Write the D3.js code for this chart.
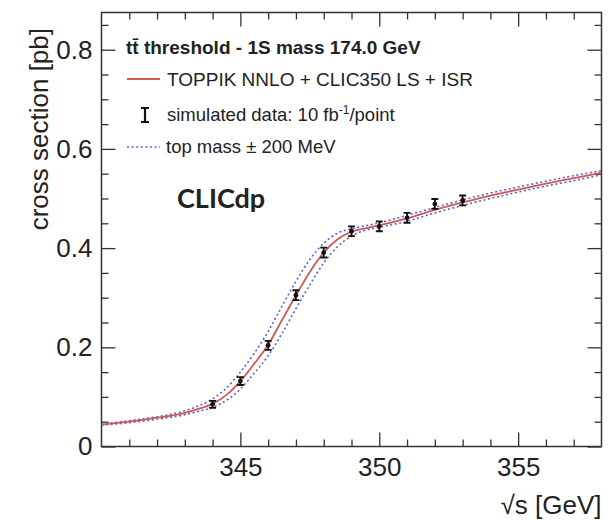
<!DOCTYPE html>
<html>
<head>
<meta charset="utf-8">
<script src="https://cdn.jsdelivr.net/npm/d3@7"></script>
<style>
  html, body { margin: 0; padding: 0; background: #fff; }
  svg { display: block; }
  text { font-family: "Liberation Sans", Arial, Helvetica, sans-serif; fill: #222; }
</style>
</head>
<body>
<svg id="chart" width="614" height="520"></svg>
<script>
// ---- data ----
const sqrtS = [340, 341, 342, 343, 343.5, 344, 344.5, 345, 345.5, 346, 346.5, 347, 347.5, 348, 348.5, 349, 349.5, 350, 351, 352, 353, 354, 355, 356, 357, 358];
const nominal = [0.044, 0.050, 0.058, 0.068, 0.076, 0.086, 0.104, 0.132, 0.167, 0.205, 0.255, 0.305, 0.352, 0.391, 0.418, 0.433, 0.440, 0.446, 0.460, 0.477, 0.492, 0.506, 0.518, 0.530, 0.541, 0.552];
const massDown = [0.045, 0.052, 0.060, 0.072, 0.082, 0.096, 0.118, 0.150, 0.188, 0.232, 0.283, 0.333, 0.377, 0.410, 0.430, 0.439, 0.445, 0.451, 0.466, 0.482, 0.497, 0.511, 0.523, 0.535, 0.546, 0.556];
const massUp = [0.043, 0.048, 0.055, 0.064, 0.071, 0.079, 0.093, 0.116, 0.148, 0.183, 0.228, 0.278, 0.326, 0.370, 0.403, 0.424, 0.436, 0.442, 0.454, 0.471, 0.486, 0.500, 0.513, 0.525, 0.536, 0.548];

const dataX = [344, 345, 346, 347, 348, 349, 350, 351, 352, 353];
const dataY = [0.085, 0.132, 0.204, 0.305, 0.391, 0.434, 0.444, 0.461, 0.489, 0.496];
const dataErr = [0.007, 0.008, 0.009, 0.010, 0.010, 0.010, 0.010, 0.010, 0.010, 0.010];

const xMajorTicks = [345, 350, 355];
const yMajorTicks = [0, 0.2, 0.4, 0.6, 0.8];
const yTickLabels = ["0", "0.2", "0.4", "0.6", "0.8"];

const legendTitle = "t\u0074\u0304 threshold - 1S mass 174.0 GeV";
const legendItems = ["TOPPIK NNLO + CLIC350 LS + ISR", "simulated data: 10 fb", "top mass \u00B1 200 MeV"];

// ---- layout ----
const L = 101.5, R = 601.5, T = 12.5, B = 446.5;
const svg = d3.select("#chart");
const x = d3.scaleLinear().domain([340, 358]).range([L, R]);
const y = d3.scaleLinear().domain([0, 0.875]).range([B, T]);

const xMinor = d3.range(341, 358, 1).filter(v => !xMajorTicks.includes(v));
const yMinor = d3.range(0.05, 0.875, 0.05).filter(v => !yMajorTicks.some(t => Math.abs(t - v) < 1e-6));

function styleAxis(g) {
  g.select(".domain").remove();
  g.selectAll("line").attr("stroke", "#333").attr("stroke-width", 1.3);
  g.selectAll("text").attr("fill", "#222").style("font-family", "Liberation Sans, Arial, sans-serif").style("font-size", "26px");
}

// bottom
svg.append("g").attr("transform", `translate(0,${B})`)
  .call(d3.axisBottom(x).tickValues(xMajorTicks).tickSizeInner(-14).tickSizeOuter(0).tickPadding(11).tickFormat(d3.format("d")))
  .call(styleAxis);
svg.append("g").attr("transform", `translate(0,${B})`)
  .call(d3.axisBottom(x).tickValues(xMinor).tickSizeInner(-7).tickSizeOuter(0).tickFormat(""))
  .call(styleAxis);
// top
svg.append("g").attr("transform", `translate(0,${T})`)
  .call(d3.axisTop(x).tickValues(xMajorTicks).tickSizeInner(-14).tickSizeOuter(0).tickFormat(""))
  .call(styleAxis);
svg.append("g").attr("transform", `translate(0,${T})`)
  .call(d3.axisTop(x).tickValues(xMinor).tickSizeInner(-7).tickSizeOuter(0).tickFormat(""))
  .call(styleAxis);
// left
svg.append("g").attr("transform", `translate(${L},0)`)
  .call(d3.axisLeft(y).tickValues(yMajorTicks).tickSizeInner(-14).tickSizeOuter(0).tickPadding(9).tickFormat((d, i) => yTickLabels[i]))
  .call(styleAxis);
svg.append("g").attr("transform", `translate(${L},0)`)
  .call(d3.axisLeft(y).tickValues(yMinor).tickSizeInner(-7).tickSizeOuter(0).tickFormat(""))
  .call(styleAxis);
// right
svg.append("g").attr("transform", `translate(${R},0)`)
  .call(d3.axisRight(y).tickValues(yMajorTicks).tickSizeInner(-14).tickSizeOuter(0).tickFormat(""))
  .call(styleAxis);
svg.append("g").attr("transform", `translate(${R},0)`)
  .call(d3.axisRight(y).tickValues(yMinor).tickSizeInner(-7).tickSizeOuter(0).tickFormat(""))
  .call(styleAxis);

// frame
svg.append("rect").attr("x", L).attr("y", T).attr("width", R - L).attr("height", B - T)
  .attr("fill", "none").attr("stroke", "#333").attr("stroke-width", 1.5);

// clip
svg.append("clipPath").attr("id", "clip").append("rect")
  .attr("x", L).attr("y", T).attr("width", R - L).attr("height", B - T);

const line = d3.line().x(d => x(d[0])).y(d => y(d[1])).curve(d3.curveMonotoneX);
const plot = svg.append("g").attr("clip-path", "url(#clip)");

const blue = "#5c5ce0";
const red = "#cf5a50";
plot.append("path").datum(sqrtS.map((v, i) => [v, massDown[i]]))
  .attr("d", line).attr("fill", "none").attr("stroke", blue).attr("stroke-width", 1.6).attr("stroke-dasharray", "2,2.6");
plot.append("path").datum(sqrtS.map((v, i) => [v, massUp[i]]))
  .attr("d", line).attr("fill", "none").attr("stroke", blue).attr("stroke-width", 1.6).attr("stroke-dasharray", "2,2.6");
plot.append("path").datum(sqrtS.map((v, i) => [v, nominal[i]]))
  .attr("d", line).attr("fill", "none").attr("stroke", red).attr("stroke-width", 1.8);

// data points with error bars
const pts = plot.selectAll("g.pt").data(dataX.map((v, i) => ({ x: v, y: dataY[i], e: dataErr[i] })))
  .enter().append("g").attr("class", "pt");
pts.append("line").attr("x1", d => x(d.x)).attr("x2", d => x(d.x))
  .attr("y1", d => y(d.y - d.e)).attr("y2", d => y(d.y + d.e)).attr("stroke", "#111").attr("stroke-width", 1.8);
pts.append("line").attr("x1", d => x(d.x) - 3.5).attr("x2", d => x(d.x) + 3.5)
  .attr("y1", d => y(d.y + d.e)).attr("y2", d => y(d.y + d.e)).attr("stroke", "#111").attr("stroke-width", 1.8);
pts.append("line").attr("x1", d => x(d.x) - 3.5).attr("x2", d => x(d.x) + 3.5)
  .attr("y1", d => y(d.y - d.e)).attr("y2", d => y(d.y - d.e)).attr("stroke", "#111").attr("stroke-width", 1.8);
pts.append("circle").attr("cx", d => x(d.x)).attr("cy", d => y(d.y)).attr("r", 2.4).attr("fill", "#111");

// legend
const lg = svg.append("g");
lg.append("text").attr("x", 126).attr("y", 54).style("font-size", "19px").style("font-weight", "bold")
  .attr("fill", "#222").text(legendTitle);
lg.append("line").attr("x1", 127).attr("x2", 160).attr("y1", 79).attr("y2", 79).attr("stroke", red).attr("stroke-width", 2);
lg.append("text").attr("x", 167).attr("y", 86).style("font-size", "19px").text(legendItems[0]);
// error bar symbol
const ex = 145, ey = 115;
lg.append("line").attr("x1", ex).attr("x2", ex).attr("y1", ey - 7).attr("y2", ey + 7).attr("stroke", "#111").attr("stroke-width", 2.2);
lg.append("line").attr("x1", ex - 4).attr("x2", ex + 4).attr("y1", ey - 7).attr("y2", ey - 7).attr("stroke", "#111").attr("stroke-width", 2);
lg.append("line").attr("x1", ex - 4).attr("x2", ex + 4).attr("y1", ey + 7).attr("y2", ey + 7).attr("stroke", "#111").attr("stroke-width", 2);
const t2 = lg.append("text").attr("x", 167).attr("y", 121).style("font-size", "18.5px");
t2.append("tspan").text(legendItems[1]);
t2.append("tspan").attr("dy", -7).style("font-size", "12px").text("-1");
t2.append("tspan").attr("dy", 7).text("/point");
lg.append("line").attr("x1", 127).attr("x2", 160).attr("y1", 147).attr("y2", 147).attr("stroke", blue).attr("stroke-width", 1.6).attr("stroke-dasharray", "2,2.6");
lg.append("text").attr("x", 166).attr("y", 153).style("font-size", "18.5px").text(legendItems[2]);

// CLICdp
svg.append("text").attr("x", 177).attr("y", 208).style("font-family", "Lato, 'Open Sans', sans-serif")
  .style("font-weight", "bold").style("font-size", "27px").attr("fill", "#111").text("CLICdp");

// axis titles
svg.append("text").attr("x", R).attr("y", 514).attr("text-anchor", "end").style("font-size", "26px")
  .text("\u221As [GeV]");
svg.append("text").attr("transform", `translate(48,28) rotate(-90)`).attr("text-anchor", "end")
  .style("font-size", "26px").text("cross section [pb]");
</script>
</body>
</html>
